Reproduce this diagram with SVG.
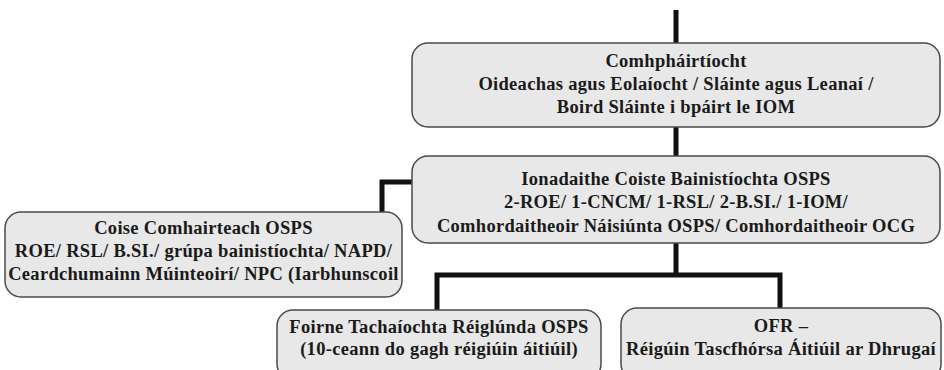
<svg xmlns="http://www.w3.org/2000/svg" width="944" height="370" viewBox="0 0 944 370">
<style>
.box{fill:#e8e8e8;stroke:#4a4a4a;stroke-width:1.5}
.t{font-family:'Liberation Serif','DejaVu Serif',serif;font-weight:bold;font-size:18.5px;letter-spacing:0.3px;fill:#1a1a1a;text-anchor:middle}
.c{fill:none;stroke:#111;stroke-width:5}
</style>
<rect width="944" height="370" fill="#fff"/>
<g id="connectors">
<path class="c" d="M676 10V43M676 127V156M676 243V275M437 275H780M437 272.5V310M780 272.5V308M412 182H382V212"/>
</g>
<g id="n1">
<rect class="box" x="412" y="43" width="528" height="84" rx="16"/>
<text class="t" x="676" y="67">Comhpháirtíocht</text>
<text class="t" x="676" y="90">Oideachas agus Eolaíocht / Sláinte agus Leanaí /</text>
<text class="t" x="676" y="113">Boird Sláinte i bpáirt le IOM</text>
</g>
<g id="n2">
<rect class="box" x="412" y="156" width="528" height="87" rx="16"/>
<text class="t" x="676" y="185">Ionadaithe Coiste Bainistíochta OSPS</text>
<text class="t" x="676" y="208">2-ROE/ 1-CNCM/ 1-RSL/ 2-B.SI./ 1-IOM/</text>
<text class="t" x="676" y="232">Comhordaitheoir Náisiúnta OSPS/ Comhordaitheoir OCG</text>
</g>
<g id="n3">
<rect class="box" x="5" y="212" width="397" height="85" rx="16"/>
<text class="t" x="203.5" y="234">Coise Comhairteach OSPS</text>
<text class="t" x="203.5" y="257">ROE/ RSL/ B.SI./ grúpa bainistíochta/ NAPD/</text>
<text class="t" x="203.5" y="280">Ceardchumainn Múinteoirí/ NPC (Iarbhunscoil</text>
</g>
<g id="n4">
<rect class="box" x="277" y="310" width="324" height="70" rx="16"/>
<text class="t" x="439" y="333">Foirne Tachaíochta Réiglúnda OSPS</text>
<text class="t" x="439" y="355">(10-ceann do gagh réigiúin áitiúil)</text>
</g>
<g id="n5">
<rect class="box" x="621" y="308" width="320" height="72" rx="16"/>
<text class="t" x="781" y="332">OFR –</text>
<text class="t" x="781" y="355">Réigúin Tascfhórsa Áitiúil ar Dhrugaí</text>
</g>
</svg>
